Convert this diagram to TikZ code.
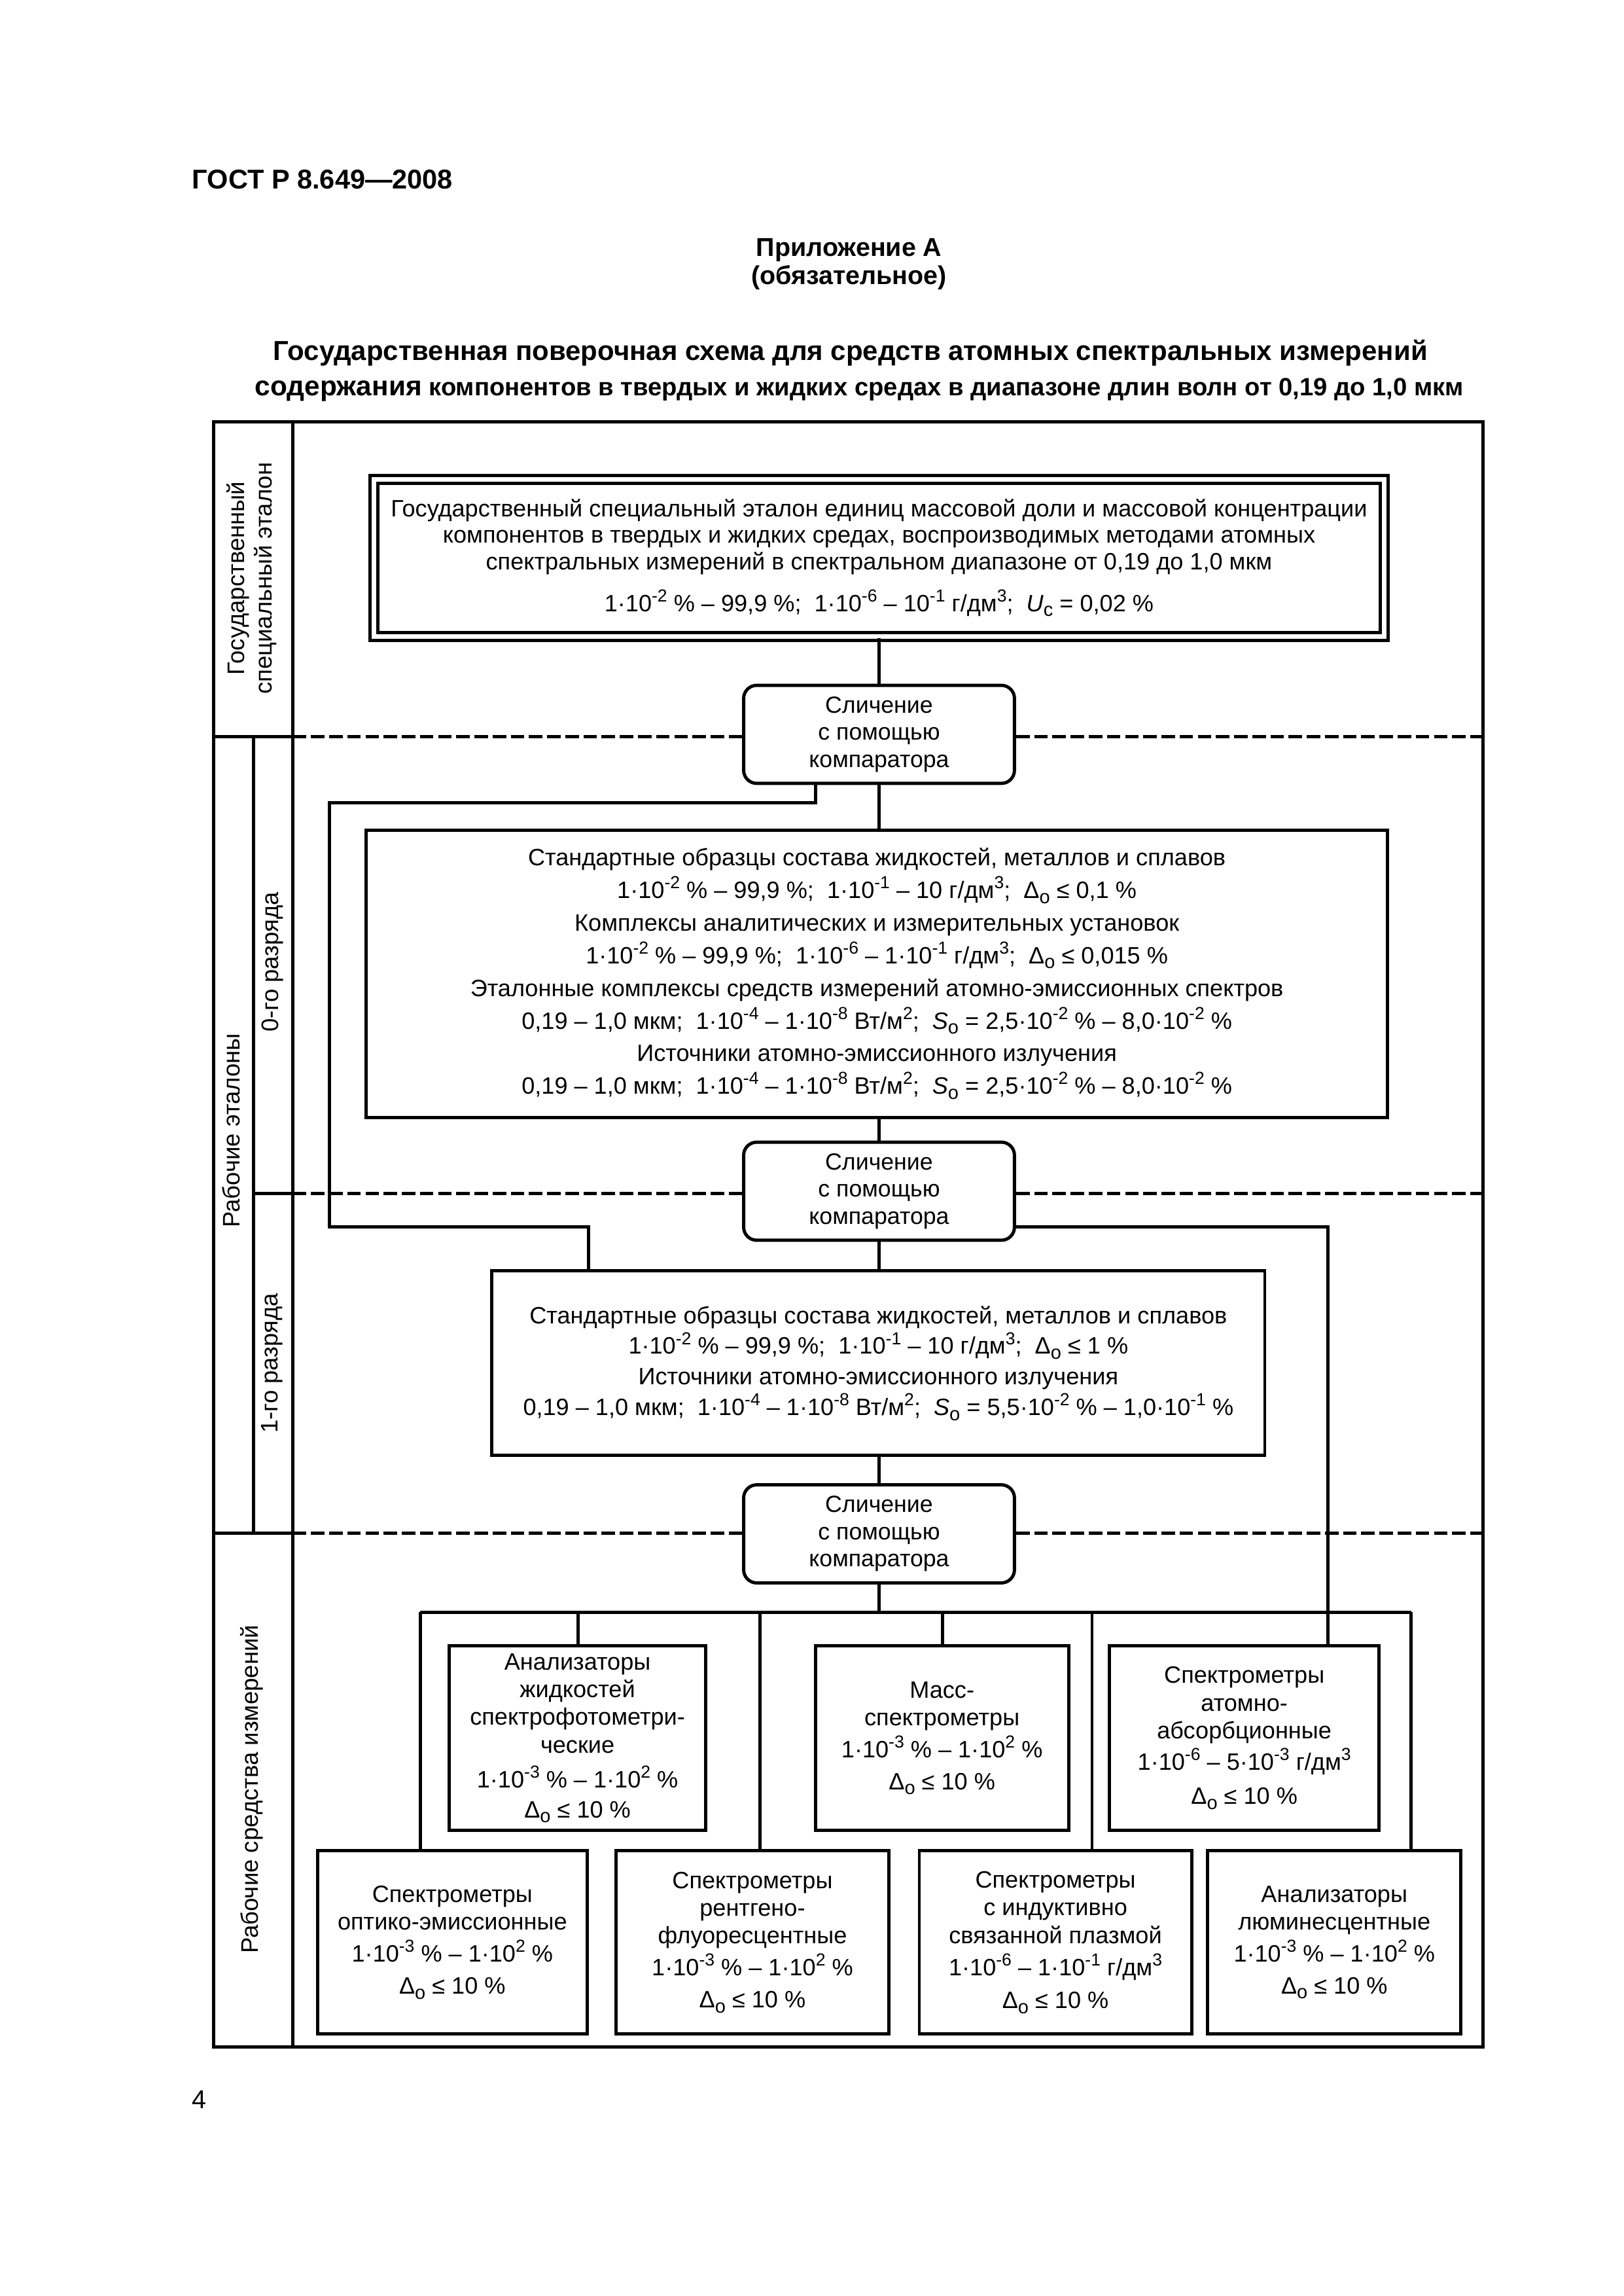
\documentclass[tikz,border=0pt]{standalone}
\usepackage{fontspec}
\setmainfont{Liberation Sans}
\usetikzlibrary{calc}
\newcommand\sps[1]{\raisebox{3.6pt}{\fontsize{6.4}{7}\selectfont #1}}
\newcommand\sbs[1]{\raisebox{-1.8pt}{\fontsize{7}{8}\selectfont #1}}
\newcommand\Dlt{Δ\sbs{o}}
\newcommand\BX[7]{%
  \node[#6,minimum width={(#4-#2)*0.18936mm},minimum height={(#5-#3)*0.18936mm}] (#1) at ({(#2+#4)/2},{(#3+#5)/2}) {#7};}
\tikzset{
  ln/.style={line width=0.42mm},
  bx/.style={draw, rectangle, line width=0.42mm, inner sep=0pt, align=center, font=\fontsize{8.7}{10.2}\selectfont},
  cmp/.style={bx, rounded corners=1.7mm, font=\fontsize{8.6}{10}\selectfont},
  dl/.style={line width=0.42mm, dash pattern=on 1.75mm off 0.6mm},
  vlab/.style={rotate=90, inner sep=0pt, align=center, font=\fontsize{8.8}{10}\selectfont},
  txt/.style={inner sep=0pt},
}
\begin{document}
\begin{tikzpicture}[x=0.18936mm, y=-0.18936mm]
\useasboundingbox (0,0) rectangle (1109,1568);
% header
\node[txt, anchor=west, font=\fontsize{10}{12}\bfseries] (gost) at (131,122.5) {ГОСТ Р 8.649—2008};
\node[txt, anchor=base, font=\fontsize{9.5}{11}\bfseries] (pril) at (580,175) {Приложение А};
\node[txt, anchor=base, font=\fontsize{9.5}{11}\bfseries] (obyaz) at (580,194) {(обязательное)};
\node[txt, anchor=base, font=\fontsize{10.1}{12}\bfseries] (t1) at (581,246) {Государственная поверочная схема для средств атомных спектральных измерений};
\node[txt, anchor=base, font=\fontsize{9.2}{12}\bfseries] (t2) at (587,270) {{\fontsize{10.2}{12}\selectfont содержания} компонентов в твердых и жидких средах в диапазоне длин волн от 0,19 до 1,0 мкм};
\node[txt, anchor=base west, font=\fontsize{9.5}{11}\selectfont] (pg) at (131,1440) {4};
% frame
\BX{frame}{146}{288}{1013}{1398}{draw, line width=0.42mm, inner sep=0pt}{}
\coordinate (x200) at (200,0);
\coordinate (x173) at (173,0);
\draw[ln] (frame.north -| x200) -- (frame.south -| x200);
\coordinate (h1) at (200,503);
\coordinate (h2) at (200,815);
\coordinate (h3) at (200,1047);
\draw[ln] (h1 -| x173) -- (h3 -| x173);
% vertical labels
\node[vlab] (lab1) at (172,395) {Государственный\\специальный эталон};
\node[vlab] (lab2) at (158,772) {Рабочие эталоны};
\node[vlab] (lab3) at (186,657) {0-го разряда};
\node[vlab] (lab4) at (186,931) {1-го разряда};
\node[vlab] (lab5) at (172,1222) {Рабочие средства измерений};
% main boxes
\BX{b1}{255.5}{327.5}{945.5}{434.5}{bx, double, double distance=0.6mm, font=\fontsize{8.7}{9.7}\selectfont}{Государственный специальный эталон единиц массовой доли и массовой концентрации\\
компонентов в твердых и жидких средах, воспроизводимых методами атомных\\
спектральных измерений в спектральном диапазоне от 0,19 до 1,0 мкм\\[4.6pt]
1·10\sps{-2} \% – 99,9 \%;\ \ 1·10\sps{-6} – 10\sps{-1} г/дм\sps{3};\ \ \textit{U}\sbs{c} = 0,02 \%}
\BX{c1}{508}{468}{693}{535}{cmp}{Сличение\\с помощью\\компаратора}
\BX{b2}{250}{567}{948}{763}{bx, font=\fontsize{8.7}{12}\selectfont}{Стандартные образцы состава жидкостей, металлов и сплавов\\
1·10\sps{-2} \% – 99,9 \%;\ \ 1·10\sps{-1} – 10 г/дм\sps{3};\ \ \Dlt{} ≤ 0,1 \%\\
Комплексы аналитических и измерительных установок\\
1·10\sps{-2} \% – 99,9 \%;\ \ 1·10\sps{-6} – 1·10\sps{-1} г/дм\sps{3};\ \ \Dlt{} ≤ 0,015 \%\\
Эталонные комплексы средств измерений атомно-эмиссионных спектров\\
0,19 – 1,0 мкм;\ \ 1·10\sps{-4} – 1·10\sps{-8} Вт/м\sps{2};\ \ \textit{S}\sbs{o} = 2,5·10\sps{-2} \% – 8,0·10\sps{-2} \%\\
Источники атомно-эмиссионного излучения\\
0,19 – 1,0 мкм;\ \ 1·10\sps{-4} – 1·10\sps{-8} Вт/м\sps{2};\ \ \textit{S}\sbs{o} = 2,5·10\sps{-2} \% – 8,0·10\sps{-2} \%}
\BX{c2}{508}{780}{693}{847}{cmp}{Сличение\\с помощью\\компаратора}
\BX{b3}{336}{868}{864}{994}{bx, font=\fontsize{8.7}{11.3}\selectfont}{Стандартные образцы состава жидкостей, металлов и сплавов\\
1·10\sps{-2} \% – 99,9 \%;\ \ 1·10\sps{-1} – 10 г/дм\sps{3};\ \ \Dlt{} ≤ 1 \%\\
Источники атомно-эмиссионного излучения\\
0,19 – 1,0 мкм;\ \ 1·10\sps{-4} – 1·10\sps{-8} Вт/м\sps{2};\ \ \textit{S}\sbs{o} = 5,5·10\sps{-2} \% – 1,0·10\sps{-1} \%}
\BX{c3}{508}{1014}{693}{1081}{cmp}{Сличение\\с помощью\\компаратора}
% upper row
\BX{an}{307}{1124}{482}{1250}{bx}{Анализаторы\\жидкостей\\спектрофотометри-\\ческие\\[2.6pt]1·10\sps{-3} \% – 1·10\sps{2} \%\\[0.8pt]\Dlt{} ≤ 10 \%}
\BX{ms}{557}{1124}{730}{1250}{bx}{Масс-\\спектрометры\\[1.6pt]1·10\sps{-3} \% – 1·10\sps{2} \%\\[1.6pt]\Dlt{} ≤ 10 \%}
\BX{aa}{758}{1124}{942}{1250}{bx}{Спектрометры\\атомно-\\абсорбционные\\[1.4pt]1·10\sps{-6} – 5·10\sps{-3} г/дм\sps{3}\\[2.4pt]\Dlt{} ≤ 10 \%}
% lower row
\BX{oe}{217}{1264}{401}{1389}{bx}{Спектрометры\\оптико-эмиссионные\\[1.6pt]1·10\sps{-3} \% – 1·10\sps{2} \%\\[1.6pt]\Dlt{} ≤ 10 \%}
\BX{rf}{421}{1264}{607}{1389}{bx}{Спектрометры\\рентгено-\\флуоресцентные\\[1.6pt]1·10\sps{-3} \% – 1·10\sps{2} \%\\[1.6pt]\Dlt{} ≤ 10 \%}
\BX{ip}{628}{1264}{814}{1389}{bx}{Спектрометры\\с индуктивно\\связанной плазмой\\[1.6pt]1·10\sps{-6} – 1·10\sps{-1} г/дм\sps{3}\\[2.0pt]\Dlt{} ≤ 10 \%}
\BX{lm}{825}{1264}{998}{1389}{bx}{Анализаторы\\люминесцентные\\[1.6pt]1·10\sps{-3} \% – 1·10\sps{2} \%\\[1.6pt]\Dlt{} ≤ 10 \%}
% horizontal section dividers
\draw[ln] (h1 -| frame.west) -- (h1);
\draw[dl] (h1) -- (h1 -| c1.west);
\draw[dl] (h1 -| c1.east) -- (h1 -| frame.east);
\draw[ln] (h2 -| x173) -- (h2);
\draw[dl] (h2) -- (h2 -| c2.west);
\draw[dl] (h2 -| c2.east) -- (h2 -| frame.east);
\draw[ln] (h3 -| frame.west) -- (h3);
\draw[dl] (h3) -- (h3 -| c3.west);
\draw[dl] (h3 -| c3.east) -- (h3 -| frame.east);
% connectors
\draw[ln] (b1.south -| c1.south) -- (c1.north);
\draw[ln] (c1.south) -- (c1.south |- b2.north);
\coordinate (k1) at (557,548);
\coordinate (k2) at (225,548);
\coordinate (k3) at (225,838);
\coordinate (k4) at (402,838);
\draw[ln] (c1.south -| k1) -- (k1) -- (k2) -- (k3) -- (k4) -- (b3.north -| k4);
\draw[ln] (c2.north |- b2.south) -- (c2.north);
\draw[ln] (c2.south) -- (c2.south |- b3.north);
\coordinate (r1) at (907,838);
\draw[ln] (c2.east |- r1) -- (r1) -- (aa.north -| r1);
\draw[ln] (c3.north |- b3.south) -- (c3.north);
\coordinate (busL) at (287,1101);
\coordinate (busR) at (964,1101);
\draw[ln] (c3.south) -- (c3.south |- busL);
\draw[ln] (busL) -- (busR);
\coordinate (v1) at (395,1101);
\coordinate (v2) at (519,1101);
\coordinate (v3) at (644,1101);
\coordinate (v4) at (746,1101);
\draw[ln] (busL) -- (oe.north -| busL);
\draw[ln] (v1) -- (an.north -| v1);
\draw[ln] (v2) -- (rf.north -| v2);
\draw[ln] (v3) -- (ms.north -| v3);
\draw[ln] (v4) -- (ip.north -| v4);
\draw[ln] (busR) -- (lm.north -| busR);
\end{tikzpicture}
\end{document}
